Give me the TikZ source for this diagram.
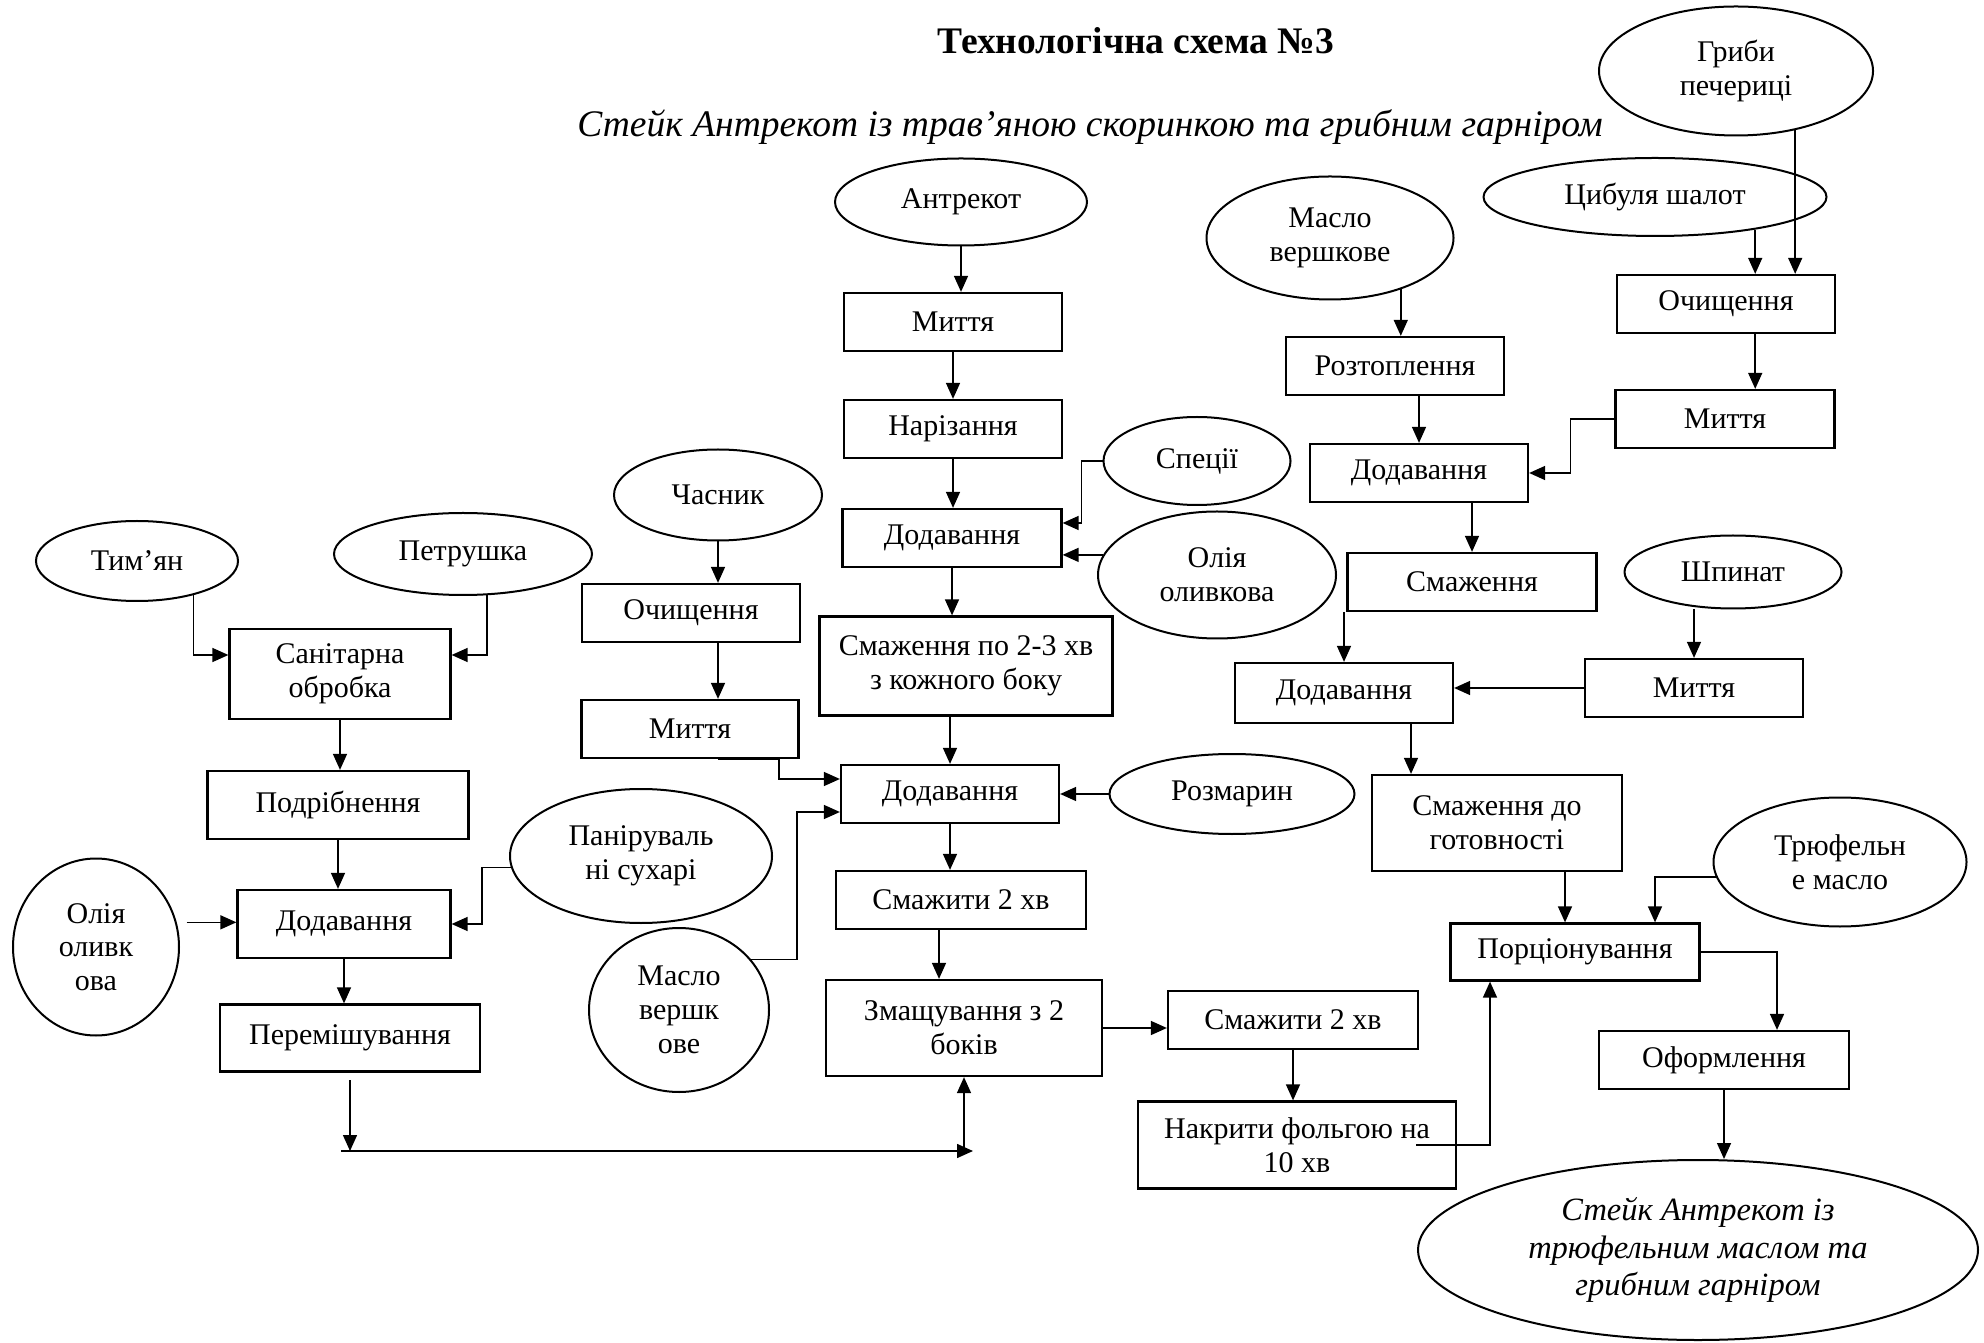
\documentclass[tikz,border=0pt]{standalone}
\usepackage{fontspec}
\setmainfont{Liberation Serif}
\usetikzlibrary{shapes.geometric, arrows.meta}

\tikzset{
  ing/.style={draw, ellipse, line width=0.8pt, inner sep=0pt, align=center},
  stepbox/.style={draw, line width=0.9pt, inner sep=0pt, align=center},
  wh/.style 2 args={minimum width=#1*0.4pt, minimum height=#2*0.4pt},
  arr/.style={-{Triangle[length=6.4pt, width=5.6pt]}, line width=0.6pt}
}

\begin{document}
\begin{tikzpicture}[x=0.4pt, y=-0.4pt, every node/.style={font=\fontsize{12}{13.5}\selectfont}]
    \useasboundingbox (0,0) rectangle (1984,1343);

    % Titles
    \node[font=\bfseries\fontsize{15}{18}\selectfont] (title) at (1136,41) {Технологічна схема №3};
    \node[font=\itshape\fontsize{15}{18}\selectfont] (subtitle) at (1090,127) {Стейк Антрекот із трав’яною скоринкою та грибним гарніром};

    % Raw materials
    \node[ing, wh={252}{87}] (antrekot) at (961,202) {Антрекот};
    \node[ing, wh={187}{88}] (speciyi) at (1197,461) {Спеції};
    \node[ing, wh={238}{127}] (oliyaC) at (1217,575) {Олія\\оливкова};
    \node[ing, wh={208}{91}] (chasnyk) at (718,495) {Часник};
    \node[ing, wh={202}{80}] (tymyan) at (137,561) {Тим’ян};
    \node[ing, wh={258}{82}] (petrushka) at (463,554) {Петрушка};
    \node[ing, wh={166}{177}] (oliyaL) at (96,947) {Олія\\оливк\\ова};
    \node[ing, wh={262}{134}] (sukhari) at (641,856) {Паніруваль\\ні сухарі};
    \node[ing, wh={180}{164}] (masloL) at (679,1010) {Масло\\вершк\\ове};
    \node[ing, wh={245}{80}] (rozmaryn) at (1232,794) {Розмарин};
    \node[ing, wh={247}{123}] (masloR) at (1330,238) {Масло\\вершкове};
    \node[ing, wh={274}{129}] (hryby) at (1736,71) {Гриби\\печериці};
    \node[ing, wh={343}{78}] (cybulya) at (1655,197) {Цибуля шалот};
    \node[ing, wh={217}{73}] (shpynat) at (1733,572) {Шпинат};
    \node[ing, wh={253}{129}] (tryufel) at (1840,862) {Трюфельн\\е масло};
    \node[ing, wh={560}{180}, font=\itshape\fontsize{13}{15}\selectfont] (result) at (1698,1250) {Стейк Антрекот із\\трюфельним маслом та\\грибним гарніром};

    % Steps: meat
    \node[stepbox, wh={218}{58}] (myttyaA) at (953,322) {Миття};
    \node[stepbox, wh={218}{58}] (narizannya) at (953,429) {Нарізання};
    \node[stepbox, wh={219}{58}] (dodC1) at (952,538) {Додавання};
    \node[stepbox, wh={293}{99}] (smazh23) at (966,666) {Смаження по 2-3 хв\\з кожного боку};
    \node[stepbox, wh={218}{58}] (dodC2) at (950,794) {Додавання};
    \node[stepbox, wh={250}{58}] (smazhC) at (961,900) {Смажити 2 хв};
    \node[stepbox, wh={276}{96}] (zmasch) at (964,1028) {Змащування з 2\\боків};
    \node[stepbox, wh={250}{58}] (smazhR) at (1293,1020) {Смажити 2 хв};
    \node[stepbox, wh={318}{87}] (nakryty) at (1297,1145) {Накрити фольгою на\\10 хв};

    % Steps: garlic and herbs
    \node[stepbox, wh={218}{58}] (ochCh) at (691,613) {Очищення};
    \node[stepbox, wh={217}{58}] (myttyaCh) at (690,729) {Миття};
    \node[stepbox, wh={221}{90}] (sanitar) at (340,674) {Санітарна\\обробка};
    \node[stepbox, wh={261}{68}] (podribn) at (338,805) {Подрібнення};
    \node[stepbox, wh={213}{68}] (dodL) at (344,924) {Додавання};
    \node[stepbox, wh={260}{67}] (peremish) at (350,1038) {Перемішування};

    % Steps: garnish
    \node[stepbox, wh={218}{58}] (roztopl) at (1395,366) {Розтоплення};
    \node[stepbox, wh={218}{58}] (dodR1) at (1419,473) {Додавання};
    \node[stepbox, wh={249}{58}] (smazhRR) at (1472,582) {Смаження};
    \node[stepbox, wh={218}{58}] (ochR) at (1726,304) {Очищення};
    \node[stepbox, wh={219}{58}] (myttyaR) at (1725,419) {Миття};
    \node[stepbox, wh={218}{58}] (myttyaSh) at (1694,688) {Миття};
    \node[stepbox, wh={218}{60}] (dodR2) at (1344,693) {Додавання};
    \node[stepbox, wh={250}{96}] (gotov) at (1497,823) {Смаження до\\готовності};
    \node[stepbox, wh={249}{57}] (porcion) at (1575,952) {Порціонування};
    \node[stepbox, wh={250}{58}] (oform) at (1724,1060) {Оформлення};

    % Arrows: meat
    \draw[arr] (antrekot.south) -- (antrekot.south |- myttyaA.north);
    \draw[arr] (myttyaA.south) -- (narizannya.north);
    \draw[arr] (narizannya.south) -- (narizannya.south |- dodC1.north);
    \draw[arr] (speciyi.west) -- ++(-21,0) |- ([yshift=6pt]dodC1.east);
    \draw[arr] (oliyaC.170) -- (oliyaC.170 -| dodC1.east);
    \draw[arr] (dodC1.south) -- (dodC1.south |- smazh23.north);
    \draw[arr] (dodC2.north |- smazh23.south) -- (dodC2.north);
    \draw[arr] (chasnyk.south) -- (chasnyk.south |- ochCh.north);
    \draw[arr] (ochCh.south -| chasnyk) -- (myttyaCh.north -| chasnyk);
    \draw[arr] (myttyaCh.south -| chasnyk) -- ++(61,0) |- ([yshift=6pt]dodC2.west);
    \draw[arr] (masloL.35) -- ++(46,0) |- ([yshift=-7.2pt]dodC2.west);
    \draw[arr] (rozmaryn.west) -- (rozmaryn.west -| dodC2.east);
    \draw[arr] (dodC2.south) -- (dodC2.south |- smazhC.north);
    \draw[arr] ([xshift=-8.8pt]smazhC.south) -- ([xshift=-8.8pt]smazhC.south |- zmasch.north);
    \draw[arr] (zmasch.east) -- (zmasch.east -| smazhR.west);
    \draw[arr] (smazhR.south) -- (smazhR.south |- nakryty.north);
    \draw[arr] ([xshift=-16.4pt]nakryty.east) -| ([xshift=-34pt]porcion.south);

    % Arrows: herbs
    \draw[arr] (tymyan.-31) |- ([yshift=7.6pt]sanitar.west);
    \draw[arr] (petrushka.-60) |- ([yshift=7.6pt]sanitar.east);
    \draw[arr] (sanitar.south) -- (sanitar.south |- podribn.north);
    \draw[arr] (podribn.south) -- (podribn.south |- dodL.north);
    \draw[arr, shorten <=4pt] (oliyaL.17) -- (oliyaL.17 -| dodL.west);
    \draw[arr] (sukhari.185) -- ++(-29,0) |- (dodL.east);
    \draw[arr] (dodL.south) -- (dodL.south |- peremish.north);
    \coordinate (joinL) at (341,1151);
    \coordinate (joinR) at (973,1151);
    \draw[arr, shorten <=3pt] (peremish.south) -- (peremish.south |- joinL);
    \draw[arr] (joinL) -- (joinR);
    \draw[arr] (zmasch.south |- joinL) -- (zmasch.south);

    % Arrows: garnish
    \draw[arr] (hryby.-45) -- (hryby.-45 |- ochR.north);
    \draw[arr] (cybulya.-18) -- (cybulya.-18 |- ochR.north);
    \draw[arr] (ochR.south -| cybulya.-18) -- (myttyaR.north -| cybulya.-18);
    \draw[arr] (myttyaR.west) -- ++(-44,0) |- (dodR1.east);
    \draw[arr] (masloR.-36) -- (masloR.-36 |- roztopl.north);
    \draw[arr] (dodR1.north |- roztopl.south) -- (dodR1.north);
    \draw[arr] (smazhRR.north |- dodR1.south) -- (smazhRR.north);
    \draw[arr] (dodR2.north |- smazhRR.south) -- (dodR2.north);
    \draw[arr] (myttyaSh.north |- shpynat.south) -- (myttyaSh.north);
    \draw[arr] (myttyaSh.west) -- (myttyaSh.west -| dodR2.east);
    \draw[arr] ([xshift=26.8pt]dodR2.south) -- ([xshift=26.8pt]dodR2.south |- gotov.north);
    \draw[arr] ([xshift=-4pt]porcion.north |- gotov.south) -- ([xshift=-4pt]porcion.north);
    \draw[arr] (tryufel.187) -| ([xshift=32pt]porcion.north);
    \draw[arr] (porcion.east) -| ([xshift=21.2pt]oform.north);
    \draw[arr] (oform.south) -- (oform.south |- result.north);

\end{tikzpicture}
\end{document}
